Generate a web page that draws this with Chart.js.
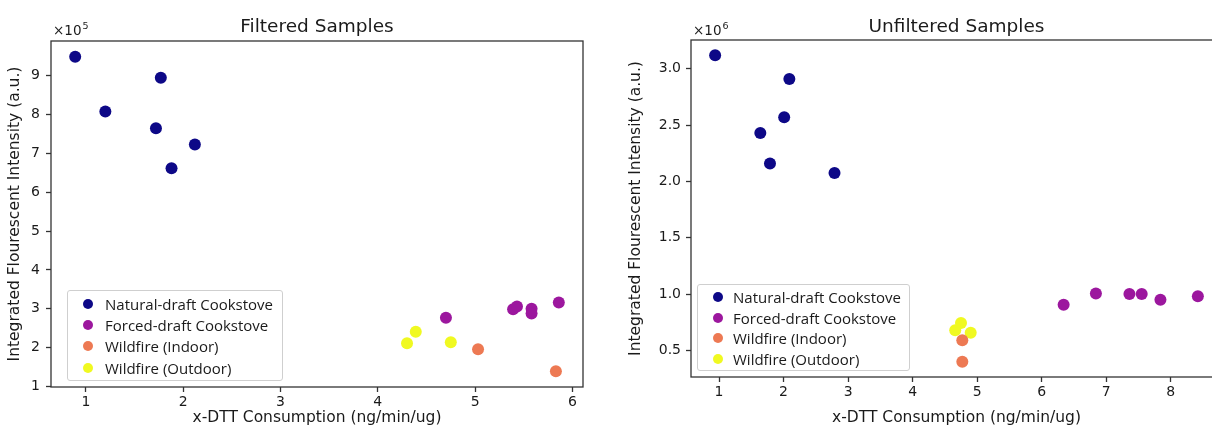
<!DOCTYPE html>
<html>
<head>
<meta charset="utf-8">
<title>x-DTT Consumption vs Fluorescent Intensity</title>
<script src="https://cdn.jsdelivr.net/npm/chart.js@4.4.0/dist/chart.umd.min.js"></script>
<style>
  html, body { margin: 0; padding: 0; background: #fff; width: 1212px; height: 433px; overflow: hidden; }
  .panel { position: absolute; top: 0; height: 433px; }
  #left { left: 0; width: 600px; }
  #right { left: 600px; width: 640px; }
  .legend {
    position: absolute; box-sizing: border-box;
    border: 1px solid #cfcfcf; border-radius: 3px;
    background: rgba(255, 255, 255, 0.85);
    font-family: "Open Sans"; font-size: 15px; color: #1a1a1a;
  }
  .legend .dot { position: absolute; width: 10px; height: 10px; border-radius: 50%; }
  .legend .txt { position: absolute; line-height: 20px; white-space: nowrap; }
</style>
</head>
<body>
<div class="panel" id="left"><canvas id="filteredChart" width="600" height="433"></canvas></div>
<div class="panel" id="right"><canvas id="unfilteredChart" width="640" height="433"></canvas></div>
<div class="legend" id="filteredLegend"></div>
<div class="legend" id="unfilteredLegend"></div>

<script>
const seriesNames = ["Natural-draft Cookstove", "Forced-draft Cookstove", "Wildfire (Indoor)", "Wildfire (Outdoor)"];
const seriesColors = ["#0d0887", "#9c179e", "#ed7953", "#f0f921"];

// filtered samples, intensity in a.u.
const filteredNaturalX = [0.89, 1.77, 1.20, 1.72, 2.12, 1.88];
const filteredNaturalY = [949000, 895000, 808000, 765000, 723000, 662000];
const filteredForcedX = [4.70, 5.39, 5.43, 5.58, 5.58, 5.86];
const filteredForcedY = [277000, 299000, 306000, 300000, 288000, 316000];
const filteredIndoorX = [5.03, 5.83];
const filteredIndoorY = [196000, 139000];
const filteredOutdoorX = [4.30, 4.39, 4.75];
const filteredOutdoorY = [211000, 241000, 214000];

// unfiltered samples
const unfilteredNaturalX = [0.94, 2.09, 2.01, 1.64, 1.79, 2.79];
const unfilteredNaturalY = [3120000, 2910000, 2570000, 2430000, 2160000, 2075000];
const unfilteredForcedX = [6.34, 6.84, 7.36, 7.55, 7.84, 8.42];
const unfilteredForcedY = [906000, 1005000, 1000000, 1000000, 950000, 980000];
const unfilteredIndoorX = [4.77, 4.77];
const unfilteredIndoorY = [590000, 400000];
const unfilteredOutdoorX = [4.66, 4.75, 4.90];
const unfilteredOutdoorY = [680000, 744000, 656000];

const filteredXTicks = [1, 2, 3, 4, 5, 6];
const filteredYTicks = [100000, 200000, 300000, 400000, 500000, 600000, 700000, 800000, 900000];
const unfilteredXTicks = [1, 2, 3, 4, 5, 6, 7, 8];
const unfilteredYTicks = [500000, 1000000, 1500000, 2000000, 2500000, 3000000];

Chart.defaults.font.family = "'DejaVu Sans'";
Chart.defaults.color = "#1a1a1a";

function toPoints(xs, ys) {
  return xs.map((x, i) => ({ x: x, y: ys[i] }));
}

// matplotlib style limits: 5% margin around the data
function padded(values) {
  let lo = Math.min(...values);
  let hi = Math.max(...values);
  let m = (hi - lo) * 0.05;
  return [lo - m, hi + m];
}

// box around the axes, title above it and the x10^n offset label
const framePlugin = {
  id: "frame",
  afterDraw(chart, args, opts) {
    const a = chart.chartArea;
    const ctx = chart.ctx;
    ctx.save();
    ctx.strokeStyle = "#333";
    ctx.lineWidth = 1.3;
    ctx.strokeRect(a.left, a.top, a.right - a.left, a.bottom - a.top);
    ctx.fillStyle = "#1a1a1a";
    ctx.textBaseline = "alphabetic";
    ctx.textAlign = "center";
    ctx.font = "18.5px 'DejaVu Sans'";
    ctx.fillText(opts.title, (a.left + a.right) / 2, 31.5);
    ctx.textAlign = "left";
    ctx.font = "13.5px 'DejaVu Sans'";
    ctx.fillText("\u00d710", a.left + 2, 35);
    let w = ctx.measureText("\u00d710").width;
    ctx.font = "9.5px 'DejaVu Sans'";
    ctx.fillText(opts.exponent, a.left + 2 + w + 1, 29);
    ctx.restore();
  }
};

function axis(cfg) {
  return {
    type: "linear",
    min: cfg.range[0],
    max: cfg.range[1],
    afterBuildTicks: s => { s.ticks = cfg.ticks.map(v => ({ value: v })); },
    afterFit: s => { if (cfg.width) s.width = cfg.width; if (cfg.height) s.height = cfg.height; },
    grid: { display: true, drawOnChartArea: false, drawTicks: true, tickLength: 5, tickWidth: 1.3, tickColor: "#333" },
    border: { display: false },
    ticks: { font: { size: 14 }, color: "#1a1a1a", padding: cfg.pad, autoSkip: false, maxRotation: 0, callback: cfg.format },
    title: { display: true, text: cfg.title, font: { size: 15.5 }, color: "#1a1a1a", padding: cfg.titlePad }
  };
}

function makeChart(id, title, exponent, groups, xTicks, yTicks, yFormat, box) {
  let allX = [].concat(...groups.map(g => g[0]));
  let allY = [].concat(...groups.map(g => g[1]));
  let datasets = groups.map((g, i) => ({
    label: seriesNames[i],
    data: toPoints(g[0], g[1]),
    backgroundColor: seriesColors[i],
    borderWidth: 0,
    pointRadius: 6,
    pointHoverRadius: 6
  }));
  return new Chart(document.getElementById(id), {
    type: "scatter",
    data: { datasets: datasets },
    plugins: [framePlugin],
    options: {
      responsive: false,
      animation: false,
      events: [],
      layout: { padding: box.padding },
      plugins: {
        legend: { display: false },
        tooltip: { enabled: false },
        frame: { title: title, exponent: exponent }
      },
      scales: {
        x: axis({ range: padded(allX), ticks: xTicks, height: box.xHeight, pad: 2,
                  title: "x-DTT Consumption (ng/min/ug)", titlePad: { top: 0, bottom: 6 } }),
        y: axis({ range: padded(allY), ticks: yTicks, width: box.yWidth, pad: box.yPad, format: yFormat,
                  title: "Integrated Flourescent Intensity (a.u.)", titlePad: { top: 6, bottom: 0 } })
      }
    }
  });
}

function buildLegend(id, box) {
  let el = document.getElementById(id);
  el.style.left = box.left + "px";
  el.style.top = box.top + "px";
  el.style.width = box.width + "px";
  el.style.height = box.height + "px";
  seriesNames.forEach((name, i) => {
    let cy = box.first + i * box.step;
    let dot = document.createElement("div");
    dot.className = "dot";
    dot.style.background = seriesColors[i];
    dot.style.left = (box.dotX - 5) + "px";
    dot.style.top = (cy - 5) + "px";
    let txt = document.createElement("div");
    txt.className = "txt";
    txt.textContent = name;
    txt.style.left = box.textX + "px";
    txt.style.top = (cy - 10) + "px";
    el.appendChild(dot);
    el.appendChild(txt);
  });
}

makeChart("filteredChart", "Filtered Samples", "5",
  [[filteredNaturalX, filteredNaturalY], [filteredForcedX, filteredForcedY],
   [filteredIndoorX, filteredIndoorY], [filteredOutdoorX, filteredOutdoorY]],
  filteredXTicks, filteredYTicks, v => String(Math.round(v / 1e5)),
  { padding: { left: 0, right: 17, top: 41, bottom: 0 }, yWidth: 51, xHeight: 46, yPad: 6 });

makeChart("unfilteredChart", "Unfiltered Samples", "6",
  [[unfilteredNaturalX, unfilteredNaturalY], [unfilteredForcedX, unfilteredForcedY],
   [unfilteredIndoorX, unfilteredIndoorY], [unfilteredOutdoorX, unfilteredOutdoorY]],
  unfilteredXTicks, unfilteredYTicks, v => (v / 1e6).toFixed(1),
  { padding: { left: 21, right: 18, top: 40, bottom: 0 }, yWidth: 70, xHeight: 56, yPad: 5 });

buildLegend("filteredLegend", { left: 67, top: 290, width: 216, height: 91, first: 13, step: 21.2, dotX: 20, textX: 37 });
buildLegend("unfilteredLegend", { left: 697, top: 284, width: 213, height: 87, first: 12, step: 20.5, dotX: 20, textX: 35 });
</script>
</body>
</html>
